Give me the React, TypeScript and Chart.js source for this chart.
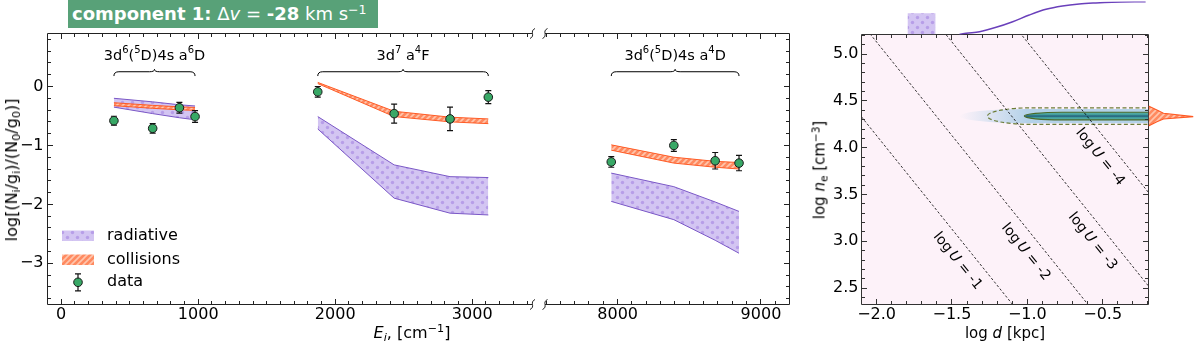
import React, { useEffect, useRef } from 'react';
import { Chart, registerables } from 'chart.js';

Chart.register(...registerables);

const FONT = '"DejaVu Sans", "Liberation Sans", sans-serif';

// ---------------- main panel: level populations ----------------
const a6D_E = [384.79, 667.68, 862.61, 977.05];
const a6D_obs = [-0.58, -0.71, -0.36, -0.51];
const a6D_err = [0.075, 0.08, 0.09, 0.1];
const a6D_radHi = [-0.2, -0.26, -0.31, -0.33];
const a6D_radLo = [-0.35, -0.46, -0.53, -0.565];
const a6D_colHi = [-0.275, -0.32, -0.345, -0.355];
const a6D_colLo = [-0.325, -0.37, -0.395, -0.405];

const a4F_E = [1872.6, 2430.14, 2837.98, 3117.49];
const a4F_obs = [-0.09, -0.46, -0.55, -0.18];
const a4F_err = [0.09, 0.16, 0.2, 0.11];
const a4F_radHi = [-0.51, -1.33, -1.53, -1.545];
const a4F_radLo = [-0.72, -1.895, -2.15, -2.18];
const a4F_colHi = [0.07, -0.42, -0.52, -0.55];
const a4F_colLo = [0.05, -0.51, -0.6, -0.63];

const a4D_E = [7955.3, 8391.94, 8680.45, 8846.78];
const a4D_obs = [-1.28, -1.0, -1.26, -1.3];
const a4D_err = [0.09, 0.1, 0.14, 0.13];
const a4D_radHi = [-1.47, -1.7, -1.96, -2.12];
const a4D_radLo = [-1.95, -2.26, -2.61, -2.83];
const a4D_colHi = [-0.99, -1.2, -1.27, -1.29];
const a4D_colLo = [-1.08, -1.3, -1.37, -1.4];

// '^' marks the next character as a superscript
const groupLabels = ['3d^6(^5D)4s a^6D', '3d^7 a^4F', '3d^6(^5D)4s a^4D'];
const legendLabels = ['radiative', 'collisions', 'data'];

const mainYTicks = [-3, -2, -1, 0];
const mainYLabels = ['\u22123', '\u22122', '\u22121', '0'];
const leftXTicks = [0, 1000, 2000, 3000];
const leftXLabels = ['0', '1000', '2000', '3000'];
const rightXTicks = [8000, 9000];
const rightXLabels = ['8000', '9000'];

// ---------------- density / distance panel ----------------
const densXTicks = [-2.0, -1.5, -1.0, -0.5];
const densXLabels = ['\u22122.0', '\u22121.5', '\u22121.0', '\u22120.5'];
const densYTicks = [2.5, 3.0, 3.5, 4.0, 4.5, 5.0];
const densYLabels = ['2.5', '3.0', '3.5', '4.0', '4.5', '5.0'];

const logUValues = [-1, -2, -3, -4];
const logULabelNe = [2.79, 2.885, 3.0, 3.9];
const logUZero = -0.87; // log n_e = logUZero - logU - 2 log d

// posterior contour (log d, log n_e)
const postNe = 4.338;
const haloTip = -1.45;
const outerTip = -1.265;
const outerHalf = 0.089;
const innerTip = -1.02;
const innerHalf = 0.041;

// top marginal (log d)
const margD = [-1.45, -1.405, -1.317, -1.207, -1.097, -0.987, -0.876, -0.767, -0.656, -0.546, -0.438, -0.215];
const margVal = [0, 0.036, 0.085, 0.218, 0.388, 0.591, 0.764, 0.864, 0.924, 0.955, 0.976, 0.994];
const radBoxD = [-1.795, -1.608];
const radBoxVal = 0.642;

// right marginal (log n_e)
const neProfNe = [4.446, 4.403, 4.368, 4.332, 4.307, 4.278, 4.232];
const neProfVal = [0, 0.187, 0.333, 1.0, 0.333, 0.187, 0];

// ---------------- styles ----------------
const RAD_EDGE = '#7a57c6';
const RAD_FILL = '#d3c5f2';
const RAD_DOT = '#b79ee8';
const COL_EDGE = '#ff5a24';
const COL_FILL = '#ff8a60';
const COL_STRIPE = '#ffc6ad';
const DATA_FILL = '#38a866';
const BG_PINK = '#fdf2f9';
const TICK_SIZE = 16;

type Pats = { dot: CanvasPattern; hatch: CanvasPattern };

function makePattern(size: number, draw: (g: CanvasRenderingContext2D) => void): CanvasPattern {
  const c = document.createElement('canvas');
  c.width = size;
  c.height = size;
  const g = c.getContext('2d')!;
  draw(g);
  return g.createPattern(c, 'repeat')!;
}

function makePats(): Pats {
  const dot = makePattern(10, (g) => {
    g.fillStyle = RAD_FILL;
    g.fillRect(0, 0, 10, 10);
    g.fillStyle = RAD_DOT;
    [[2.5, 2.5], [7.5, 7.5]].forEach(([x, y]) => {
      g.beginPath();
      g.arc(x, y, 1.7, 0, Math.PI * 2);
      g.fill();
    });
  });
  const hatch = makePattern(6, (g) => {
    g.fillStyle = COL_FILL;
    g.fillRect(0, 0, 6, 6);
    g.strokeStyle = COL_STRIPE;
    g.lineWidth = 1.6;
    g.beginPath();
    g.moveTo(0, 6); g.lineTo(6, 0);
    g.moveTo(-1, 1); g.lineTo(1, -1);
    g.moveTo(5, 7); g.lineTo(7, 5);
    g.stroke();
  });
  return { dot, hatch };
}

function scaleOpts(min: number, max: number, ticks: number[], labels: string[], size: number, padding: number, fit: (s: any) => void, display = true): any {
  return {
    type: 'linear',
    min,
    max,
    bounds: 'data',
    display,
    grid: { display: false, drawTicks: false },
    border: { display: false },
    ticks: {
      font: { family: FONT, size },
      color: '#000',
      padding,
      autoSkip: false,
      maxRotation: 0,
      minRotation: 0,
      callback: (_v: any, i: number) => labels[i] ?? '',
    },
    afterBuildTicks: (s: any) => {
      s.ticks = ticks.map((v) => ({ value: v }));
    },
    afterFit: display ? fit : (s: any) => { s.width = 0; s.height = 0; },
  };
}

function decoPlugin(cfg: { sides: string[]; xMajor: number[]; xMinor: number; yMajor: number[]; yMinor: number; color: string; brk?: 'left' | 'right' }) {
  return {
    id: 'deco',
    afterDraw(chart: any) {
      const { ctx, chartArea: a } = chart;
      const xs = chart.scales.x;
      const ys = chart.scales.y;
      const has = (s: string) => cfg.sides.includes(s);
      ctx.save();
      ctx.setLineDash([]);
      ctx.globalAlpha = 1;
      ctx.strokeStyle = cfg.color;
      ctx.fillStyle = cfg.color;
      ctx.lineWidth = 1;
      ctx.beginPath();
      if (has('left')) { ctx.moveTo(a.left, a.top); ctx.lineTo(a.left, a.bottom); }
      if (has('right')) { ctx.moveTo(a.right, a.top); ctx.lineTo(a.right, a.bottom); }
      if (has('top')) { ctx.moveTo(a.left, a.top); ctx.lineTo(a.right, a.top); }
      if (has('bottom')) { ctx.moveTo(a.left, a.bottom); ctx.lineTo(a.right, a.bottom); }
      ctx.stroke();
      const minors = (min: number, max: number, step: number) => {
        const out: number[] = [];
        const k0 = Math.ceil(min / step - 1e-6);
        const k1 = Math.floor(max / step + 1e-6);
        for (let k = k0; k <= k1; k++) out.push(k * step);
        return out;
      };
      const L = Math.floor(a.left), R = Math.floor(a.right), T = Math.floor(a.top), B = Math.floor(a.bottom);
      const xt = (vals: number[], len: number) => vals.forEach((v) => {
        const p = xs.getPixelForValue(v);
        if (!isFinite(p) || p < a.left - 0.5 || p > a.right + 0.5) return;
        const px = Math.floor(p);
        if (has('bottom')) ctx.fillRect(px, B - len, 1, len);
        if (has('top')) ctx.fillRect(px, T + 1, 1, len);
      });
      const yt = (vals: number[], len: number) => vals.forEach((v) => {
        const p = ys.getPixelForValue(v);
        if (!isFinite(p) || p < a.top - 0.5 || p > a.bottom + 0.5) return;
        const py = Math.floor(p);
        if (has('left')) ctx.fillRect(L + 1, py, len, 1);
        if (has('right')) ctx.fillRect(R - len, py, len, 1);
      });
      xt(cfg.xMajor, 5);
      xt(minors(xs.min, xs.max, cfg.xMinor), 3);
      yt(cfg.yMajor, 5);
      yt(minors(ys.min, ys.max, cfg.yMinor), 3);
      if (cfg.brk) {
        const bx = cfg.brk === 'right' ? a.right : a.left;
        ctx.lineWidth = 1;
        [a.top, a.bottom].forEach((by) => {
          ctx.beginPath();
          ctx.moveTo(bx - 2.5, by + 5);
          ctx.bezierCurveTo(bx + 3.5, by + 2, bx - 3.5, by - 2, bx + 2.5, by - 5);
          ctx.stroke();
        });
      }
      ctx.restore();
    },
  };
}

const errorBarPlugin = {
  id: 'errbars',
  beforeDatasetDraw(chart: any, args: any) {
    const ds: any = chart.data.datasets[args.index];
    if (!ds.errors) return;
    const { ctx } = chart;
    const xs = chart.scales.x;
    const ys = chart.scales.y;
    ctx.save();
    ctx.strokeStyle = '#111';
    ctx.lineWidth = 1.2;
    ctx.beginPath();
    ds.data.forEach((p: any, i: number) => {
      const px = xs.getPixelForValue(p.x);
      const y1 = ys.getPixelForValue(p.y + ds.errors[i]);
      const y2 = ys.getPixelForValue(p.y - ds.errors[i]);
      ctx.moveTo(px, y1); ctx.lineTo(px, y2);
      ctx.moveTo(px - 3, y1); ctx.lineTo(px + 3, y1);
      ctx.moveTo(px - 3, y2); ctx.lineTo(px + 3, y2);
    });
    ctx.stroke();
    ctx.restore();
  },
};

const braceY = 0.178;
const groupLabelY = 0.458;

function drawBrace(ctx: CanvasRenderingContext2D, x1: number, x2: number, y: number) {
  const h = 4.3, c = 2.4, r = 5;
  const xm = (x1 + x2) / 2;
  const ya = y - h;
  ctx.beginPath();
  ctx.moveTo(x1, y);
  ctx.quadraticCurveTo(x1, ya, x1 + r, ya);
  ctx.lineTo(xm - r, ya);
  ctx.quadraticCurveTo(xm, ya, xm, ya - c);
  ctx.quadraticCurveTo(xm, ya, xm + r, ya);
  ctx.lineTo(x2 - r, ya);
  ctx.quadraticCurveTo(x2, ya, x2, y);
  ctx.stroke();
}

// draw text where '^' makes the following character a superscript
function drawRich(ctx: CanvasRenderingContext2D, text: string, cx: number, baseY: number, size: number) {
  const parts: { t: string; sup: boolean }[] = [];
  for (let i = 0; i < text.length; i++) {
    if (text[i] === '^' && i + 1 < text.length) {
      parts.push({ t: text[i + 1], sup: true });
      i++;
    } else {
      const last = parts[parts.length - 1];
      if (last && !last.sup) last.t += text[i];
      else parts.push({ t: text[i], sup: false });
    }
  }
  const norm = `${size}px ${FONT}`;
  const small = `${Math.round(size * 0.72)}px ${FONT}`;
  let total = 0;
  parts.forEach((p) => { ctx.font = p.sup ? small : norm; total += ctx.measureText(p.t).width; });
  let x = cx - total / 2;
  ctx.textAlign = 'left';
  parts.forEach((p) => {
    ctx.font = p.sup ? small : norm;
    ctx.fillText(p.t, x, p.sup ? baseY - size * 0.42 : baseY);
    x += ctx.measureText(p.t).width;
  });
}

function bracePlugin(groups: { E: number[]; label: string }[]) {
  return {
    id: 'braces',
    afterDatasetsDraw(chart: any) {
      const { ctx } = chart;
      const xs = chart.scales.x;
      const ys = chart.scales.y;
      ctx.save();
      ctx.strokeStyle = '#000';
      ctx.fillStyle = '#000';
      ctx.lineWidth = 1;
      ctx.textBaseline = 'alphabetic';
      groups.forEach((g) => {
        const x1 = xs.getPixelForValue(g.E[0]);
        const x2 = xs.getPixelForValue(g.E[g.E.length - 1]);
        drawBrace(ctx, x1, x2, ys.getPixelForValue(braceY));
        drawRich(ctx, g.label, (x1 + x2) / 2, ys.getPixelForValue(groupLabelY), 14.5);
      });
      ctx.restore();
    },
  };
}

function legendPlugin(pats: Pats) {
  return {
    id: 'mainLegend',
    afterDraw(chart: any) {
      const { ctx, chartArea: a } = chart;
      const x0 = a.left + 14.5;
      const w = 32;
      ctx.save();
      ctx.fillStyle = pats.dot;
      ctx.fillRect(x0, 230.5, w, 10.5);
      ctx.fillStyle = pats.hatch;
      ctx.fillRect(x0, 254.5, w, 10.5);
      const cx = x0 + w / 2;
      const cy = 282.3;
      ctx.strokeStyle = '#111';
      ctx.lineWidth = 1.2;
      ctx.beginPath();
      ctx.moveTo(cx, cy - 8.5); ctx.lineTo(cx, cy + 8.5);
      ctx.moveTo(cx - 3, cy - 8.5); ctx.lineTo(cx + 3, cy - 8.5);
      ctx.moveTo(cx - 3, cy + 8.5); ctx.lineTo(cx + 3, cy + 8.5);
      ctx.stroke();
      ctx.beginPath();
      ctx.arc(cx, cy, 4.3, 0, Math.PI * 2);
      ctx.fillStyle = DATA_FILL;
      ctx.fill();
      ctx.strokeStyle = '#1a1a1a';
      ctx.lineWidth = 1;
      ctx.stroke();
      ctx.fillStyle = '#000';
      ctx.font = `16px ${FONT}`;
      ctx.textAlign = 'left';
      ctx.textBaseline = 'middle';
      const ys = [235.8, 259.5, 282.3];
      legendLabels.forEach((t, i) => ctx.fillText(t, a.left + 59.5, ys[i]));
      ctx.restore();
    },
  };
}

function lineDs(E: number[], v: number[], color: string, order: number, fill: any, bg?: any) {
  return {
    data: E.map((e, i) => ({ x: e, y: v[i] })),
    borderColor: color,
    borderWidth: 1,
    pointRadius: 0,
    pointHoverRadius: 0,
    fill,
    backgroundColor: bg ?? 'transparent',
    order,
    tension: 0,
  };
}

function obsDs(E: number[], v: number[], err: number[]) {
  return {
    data: E.map((e, i) => ({ x: e, y: v[i] })),
    showLine: false,
    pointRadius: 4.3,
    pointHoverRadius: 4.3,
    pointBackgroundColor: DATA_FILL,
    pointBorderColor: '#1a1a1a',
    pointBorderWidth: 1,
    order: 0,
    errors: err,
  };
}

const baseOpts = (padding: any) => ({
  responsive: false,
  animation: false,
  events: [],
  layout: { autoPadding: false, padding },
  plugins: { legend: { display: false }, tooltip: { enabled: false }, title: { display: false } },
});

function mainConfig(side: 'left' | 'right', pats: Pats): any {
  const isL = side === 'left';
  const groups = isL
    ? [
        { E: a6D_E, obs: a6D_obs, err: a6D_err, rh: a6D_radHi, rl: a6D_radLo, ch: a6D_colHi, cl: a6D_colLo, label: groupLabels[0] },
        { E: a4F_E, obs: a4F_obs, err: a4F_err, rh: a4F_radHi, rl: a4F_radLo, ch: a4F_colHi, cl: a4F_colLo, label: groupLabels[1] },
      ]
    : [{ E: a4D_E, obs: a4D_obs, err: a4D_err, rh: a4D_radHi, rl: a4D_radLo, ch: a4D_colHi, cl: a4D_colLo, label: groupLabels[2] }];
  const datasets: any[] = [];
  groups.forEach((g) => {
    datasets.push(lineDs(g.E, g.rh, RAD_EDGE, 2, false));
    datasets.push(lineDs(g.E, g.rl, RAD_EDGE, 2, '-1', pats.dot));
    datasets.push(lineDs(g.E, g.ch, COL_EDGE, 1, false));
    datasets.push(lineDs(g.E, g.cl, COL_EDGE, 1, '-1', pats.hatch));
    datasets.push(obsDs(g.E, g.obs, g.err));
  });
  const left = isL ? 0 : 545;
  const right = isL ? 532.5 : 789.5;
  const plugins: any[] = [
    errorBarPlugin,
    bracePlugin(groups.map((g) => ({ E: g.E, label: g.label }))),
    decoPlugin({
      sides: isL ? ['left', 'top', 'bottom'] : ['right', 'top', 'bottom'],
      xMajor: isL ? leftXTicks : rightXTicks,
      xMinor: 100,
      yMajor: mainYTicks,
      yMinor: 0.2,
      color: '#222',
      brk: isL ? 'right' : 'left',
    }),
  ];
  if (isL) plugins.push(legendPlugin(pats));
  return {
    type: 'line',
    data: { datasets },
    options: {
      ...baseOpts({ left, top: 33.5, right: 1196 - right, bottom: 0 }),
      scales: {
        x: scaleOpts(isL ? -100 : 7493, isL ? 3440 : 9199, isL ? leftXTicks : rightXTicks, isL ? leftXLabels : rightXLabels, TICK_SIZE, 1, (s: any) => { s.height = 347 - 304.5; }),
        y: scaleOpts(-3.7, 0.9, mainYTicks, mainYLabels, TICK_SIZE, 4, (s: any) => { s.width = 47.5; }, isL),
      },
    },
    plugins,
  };
}

const DENS_X: [number, number] = [-2.1, -0.196];
const DENS_Y: [number, number] = [2.325, 5.21];
const DENS_L = 861.5, DENS_R = 1148.5, DENS_T = 34.5, DENS_B = 304.5;

const densityPlugin = {
  id: 'density',
  beforeDatasetsDraw(chart: any) {
    const { ctx, chartArea: a } = chart;
    const xs = chart.scales.x;
    const ys = chart.scales.y;
    ctx.save();
    ctx.fillStyle = BG_PINK;
    ctx.fillRect(a.left, a.top, a.width, a.height);
    ctx.beginPath();
    ctx.rect(a.left, a.top, a.width, a.height);
    ctx.clip();
    const capsule = (tip: number, half: number, cap: number) => {
      const cx = xs.getPixelForValue(tip + cap);
      const yt = ys.getPixelForValue(postNe + half);
      const yb = ys.getPixelForValue(postNe - half);
      const yc = ys.getPixelForValue(postNe);
      const rx = cx - xs.getPixelForValue(tip);
      const xr = a.right + 30;
      ctx.beginPath();
      ctx.moveTo(xr, yt);
      ctx.lineTo(cx, yt);
      ctx.ellipse(cx, yc, rx, (yb - yt) / 2, 0, -Math.PI / 2, Math.PI / 2, true);
      ctx.lineTo(xr, yb);
      ctx.closePath();
      return { yt, yb };
    };
    const g = ctx.createLinearGradient(xs.getPixelForValue(haloTip), 0, xs.getPixelForValue(-1.0), 0);
    g.addColorStop(0, 'rgba(176,208,232,0)');
    g.addColorStop(1, 'rgba(176,208,232,0.95)');
    capsule(haloTip, outerHalf * 0.85, 0.45);
    ctx.fillStyle = g;
    ctx.fill();
    const inner = capsule(innerTip, innerHalf, 0.25);
    const gi = ctx.createLinearGradient(0, inner.yt, 0, inner.yb);
    gi.addColorStop(0, '#62b3aa');
    gi.addColorStop(0.32, '#3f9b9c');
    gi.addColorStop(0.5, '#245a7a');
    gi.addColorStop(0.68, '#3f9b9c');
    gi.addColorStop(1, '#62b3aa');
    ctx.fillStyle = gi;
    ctx.fill();
    ctx.strokeStyle = '#4a6a28';
    ctx.lineWidth = 1.2;
    ctx.stroke();
    capsule(outerTip, outerHalf, 0.3);
    ctx.setLineDash([4, 2.5]);
    ctx.strokeStyle = '#6d7d38';
    ctx.lineWidth = 1.2;
    ctx.stroke();
    ctx.restore();
  },
  afterDatasetsDraw(chart: any) {
    const { ctx } = chart;
    const xs = chart.scales.x;
    const ys = chart.scales.y;
    ctx.save();
    ctx.fillStyle = '#000';
    ctx.textBaseline = 'middle';
    ctx.textAlign = 'left';
    const reg = `14px ${FONT}`;
    const ital = `italic 14px ${FONT}`;
    logUValues.forEach((u, i) => {
      const ne = logULabelNe[i];
      const d = (logUZero - u - ne) / 2;
      const p1x = xs.getPixelForValue(d);
      const p1y = ys.getPixelForValue(ne);
      const p2x = xs.getPixelForValue(d + 0.5);
      const p2y = ys.getPixelForValue(ne - 1);
      const ang = Math.atan2(p2y - p1y, p2x - p1x);
      const parts: [string, string][] = [['log\u2009', reg], ['U', ital], [` = ${u}`, reg]];
      let total = 0;
      parts.forEach(([t, f]) => { ctx.font = f; total += ctx.measureText(t).width; });
      ctx.save();
      ctx.translate(p1x - 20, p1y);
      ctx.rotate(ang);
      let x = -total / 2;
      parts.forEach(([t, f]) => { ctx.font = f; ctx.fillText(t, x, 0); x += ctx.measureText(t).width; });
      ctx.restore();
    });
    ctx.restore();
  },
};

function densityConfig(): any {
  const datasets = logUValues.map((u) => ({
    data: DENS_X.map((d) => ({ x: d, y: logUZero - u - 2 * d })),
    borderColor: '#000',
    borderWidth: 0.8,
    borderDash: [2.5, 2],
    pointRadius: 0,
    pointHoverRadius: 0,
    fill: false,
    tension: 0,
  }));
  return {
    type: 'line',
    data: { datasets },
    options: {
      ...baseOpts({ left: DENS_L - 61, top: DENS_T, right: 1196 - DENS_R, bottom: 0 }),
      scales: {
        x: scaleOpts(DENS_X[0], DENS_X[1], densXTicks, densXLabels, TICK_SIZE, 1, (s: any) => { s.height = 347 - DENS_B; }),
        y: scaleOpts(DENS_Y[0], DENS_Y[1], densYTicks, densYLabels, TICK_SIZE, 3, (s: any) => { s.width = 61; }),
      },
    },
    plugins: [
      densityPlugin,
      decoPlugin({ sides: ['left', 'right', 'top', 'bottom'], xMajor: densXTicks, xMinor: 0.1, yMajor: densYTicks, yMinor: 0.1, color: '#333' }),
    ],
  };
}

function topMargConfig(pats: Pats): any {
  return {
    type: 'line',
    data: {
      datasets: [
        {
          data: [
            { x: radBoxD[0], y: 0 },
            { x: radBoxD[0], y: radBoxVal },
            { x: radBoxD[1], y: radBoxVal },
            { x: radBoxD[1], y: 0 },
          ],
          borderWidth: 0,
          borderColor: 'transparent',
          pointRadius: 0,
          fill: 'origin',
          backgroundColor: pats.dot,
          tension: 0,
        },
        {
          data: margD.map((d, i) => ({ x: d, y: margVal[i] })),
          borderColor: '#6a40bb',
          borderWidth: 1.5,
          pointRadius: 0,
          fill: false,
          cubicInterpolationMode: 'monotone',
        },
      ],
    },
    options: {
      ...baseOpts({ left: DENS_L, top: 1.5, right: 1196 - DENS_R, bottom: 347 - DENS_T }),
      scales: {
        x: { type: 'linear', min: DENS_X[0], max: DENS_X[1], display: false },
        y: { type: 'linear', min: 0, max: 1, display: false },
      },
    },
  };
}

function rightMargConfig(pats: Pats): any {
  return {
    type: 'line',
    data: {
      datasets: [
        {
          data: neProfNe.map((n, i) => ({ x: neProfVal[i], y: n })),
          borderColor: COL_EDGE,
          borderWidth: 1.1,
          pointRadius: 0,
          fill: 'origin',
          backgroundColor: pats.hatch,
          tension: 0,
        },
      ],
    },
    options: {
      ...baseOpts({ left: DENS_R, top: DENS_T, right: 1196 - 1193.5, bottom: 347 - DENS_B }),
      indexAxis: 'y',
      scales: {
        x: { type: 'linear', min: 0, max: 1, display: false },
        y: { type: 'linear', min: DENS_Y[0], max: DENS_Y[1], display: false },
      },
    },
  };
}

const Sub = ({ children }: { children: any }) => (
  <span style={{ fontSize: '70%', position: 'relative', top: '0.3em' }}>{children}</span>
);
const Sup = ({ children }: { children: any }) => (
  <span style={{ fontSize: '70%', position: 'relative', top: '-0.5em' }}>{children}</span>
);

const labelStyle = (x: number, y: number, size: number, rotate = false): React.CSSProperties => ({
  position: 'absolute',
  left: x,
  top: y,
  transform: `translate(-50%, -50%)${rotate ? ' rotate(-90deg)' : ''}`,
  fontFamily: FONT,
  fontSize: size,
  whiteSpace: 'nowrap',
  lineHeight: 1,
  color: '#000',
});

export default function App() {
  const r1 = useRef<HTMLCanvasElement>(null);
  const r2 = useRef<HTMLCanvasElement>(null);
  const r3 = useRef<HTMLCanvasElement>(null);
  const r4 = useRef<HTMLCanvasElement>(null);
  const r5 = useRef<HTMLCanvasElement>(null);

  useEffect(() => {
    const pats = makePats();
    const charts = [
      new Chart(r1.current!, mainConfig('left', pats)),
      new Chart(r2.current!, mainConfig('right', pats)),
      new Chart(r3.current!, densityConfig()),
      new Chart(r4.current!, topMargConfig(pats)),
      new Chart(r5.current!, rightMargConfig(pats)),
    ];
    return () => charts.forEach((c) => c.destroy());
  }, []);

  const cv = (r: any) => (
    <canvas ref={r} width={1196} height={347} style={{ position: 'absolute', left: 0, top: 0, width: 1196, height: 347 }} />
  );

  return (
    <div style={{ position: 'absolute', left: 0, top: 0, width: 1196, height: 347, background: '#fff', overflow: 'hidden' }}>
      {cv(r1)}
      {cv(r2)}
      {cv(r3)}
      {cv(r4)}
      {cv(r5)}
      <div
        style={{
          position: 'absolute',
          left: 68,
          top: 0,
          width: 310,
          height: 28,
          background: '#58a178',
          color: '#fff',
          fontFamily: FONT,
          fontSize: 18,
          lineHeight: '28px',
          paddingLeft: 4,
          boxSizing: 'border-box',
          whiteSpace: 'nowrap',
          overflow: 'hidden',
        }}
      >
        <b>component 1:</b> Δ<i>v</i> = <b>-28</b> km s<Sup>−1</Sup>
      </div>
      <div style={labelStyle(12, 170, 16, true)}>
        log[(N<Sub>i</Sub>/g<Sub>i</Sub>)/(N<Sub>0</Sub>/g<Sub>0</Sub>)]
      </div>
      <div style={labelStyle(412, 333, 16)}>
        <i>E</i><Sub><i>i</i></Sub>, [cm<Sup>−1</Sup>]
      </div>
      <div style={labelStyle(820, 170, 15, true)}>
        log <i>n</i><Sub>e</Sub> [cm<Sup>−3</Sup>]
      </div>
      <div style={labelStyle(1005, 333, 15)}>
        log <i>d</i> [kpc]
      </div>
    </div>
  );
}
